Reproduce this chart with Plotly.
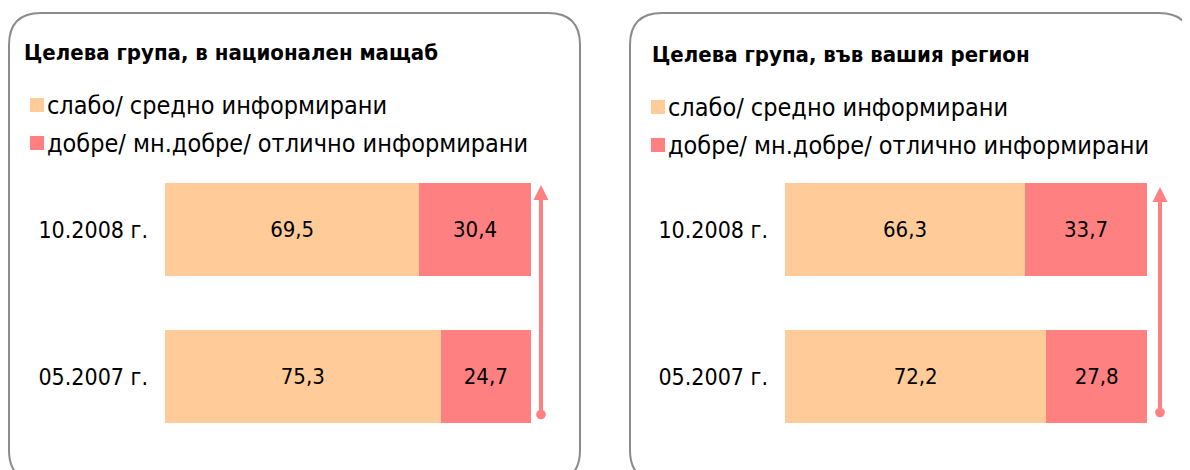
import plotly.graph_objects as go

W, H = 1190, 470
OFF = 8  # page body margin

periods = ["05.2007 г.", "10.2008 г."]
low_label = "слабо/ средно информирани"
high_label = "добре/ мн.добре/ отлично информирани"

national_low = [75.3, 69.5]
national_high = [24.7, 30.4]
regional_low = [72.2, 66.3]
regional_high = [27.8, 33.7]

titles = ["Целева група, в национален мащаб", "Целева група, във вашия регион"]

LOW_C = "#FFCC99"
HIGH_C = "#FF8080"
FONT = "DejaVu Sans Condensed, Roboto, sans-serif"


def px(x):
    return (x - OFF) / W


def py(y):
    return 1 - (y - OFF) / H


def fmt(vals):
    return [f"{v:.1f}".replace(".", ",") for v in vals]


def rounded_box(x0, y0, x1, y1, r):
    pts = [
        f"M{px(x0 + r)},{py(y0)}",
        f"L{px(x1 - r)},{py(y0)}",
        f"Q{px(x1)},{py(y0)} {px(x1)},{py(y0 + r)}",
        f"L{px(x1)},{py(y1 - r)}",
        f"Q{px(x1)},{py(y1)} {px(x1 - r)},{py(y1)}",
        f"L{px(x0 + r)},{py(y1)}",
        f"Q{px(x0)},{py(y1)} {px(x0)},{py(y1 - r)}",
        f"L{px(x0)},{py(y0 + r)}",
        f"Q{px(x0)},{py(y0)} {px(x0 + r)},{py(y0)}",
        "Z",
    ]
    return dict(type="path", xref="paper", yref="paper", path=" ".join(pts),
                line=dict(color="#8C8C8C", width=2), layer="below")


fig = go.Figure()

panels = [
    dict(low=national_low, high=national_high, xa="x", ya="y",
         dom=(165, 531), box=(9, 13, 580, 482), tx=22, ty=52, lx=30, ly=(105, 143),
         ax=541, ay=(185, 416)),
    dict(low=regional_low, high=regional_high, xa="x2", ya="y2",
         dom=(785, 1147), box=(630, 13, 1191, 482), tx=650, ty=55, lx=651, ly=(107, 145),
         ax=1160, ay=(187, 414)),
]

shapes = []
annotations = []
for i, p in enumerate(panels):
    for vals, name, col in [(p["low"], low_label, LOW_C), (p["high"], high_label, HIGH_C)]:
        fig.add_trace(go.Bar(
            y=periods, x=vals, orientation="h", name=name,
            marker=dict(color=col, line=dict(width=0)),
            text=fmt(vals), textposition="inside", insidetextanchor="middle",
            textfont=dict(family=FONT, size=22, color="black"),
            xaxis=p["xa"], yaxis=p["ya"], showlegend=False,
        ))

    shapes.append(rounded_box(*p["box"], 32))

    annotations.append(dict(
        text=f"<b>{titles[i]}</b>", x=px(p["tx"]), y=py(p["ty"]),
        xref="paper", yref="paper", xanchor="left", yanchor="middle",
        showarrow=False, font=dict(family=FONT, size=22, color="black"),
    ))
    for ly, name, col in [(p["ly"][0], low_label, LOW_C), (p["ly"][1], high_label, HIGH_C)]:
        shapes.append(dict(type="rect", xref="paper", yref="paper",
                           x0=px(p["lx"]), x1=px(p["lx"] + 14),
                           y0=py(ly + 7), y1=py(ly - 7),
                           fillcolor=col, line=dict(width=0)))
        annotations.append(dict(
            text=name, x=px(p["lx"] + 15), y=py(ly),
            xref="paper", yref="paper", xanchor="left", yanchor="middle",
            showarrow=False, font=dict(family=FONT, size=25, color="black"),
        ))

    annotations.append(dict(
        text="", x=px(p["ax"]), y=py(p["ay"][0]), xref="paper", yref="paper",
        ax=0, ay=p["ay"][1] - p["ay"][0], axref="pixel", ayref="pixel",
        showarrow=True, arrowside="end+start", arrowhead=2, arrowsize=0.75,
        startarrowhead=6, startarrowsize=0.6, arrowwidth=4, arrowcolor=HIGH_C,
    ))

bar_dom_y = [py(450), py(156)]
fig.update_layout(
    width=W, height=H,
    margin=dict(l=0, r=0, t=0, b=0),
    paper_bgcolor="white", plot_bgcolor="white",
    barmode="stack", bargap=0.37,
    xaxis=dict(domain=[px(165), px(531)], range=[0, 100], visible=False),
    xaxis2=dict(domain=[px(785), px(1147)], range=[0, 100], visible=False, anchor="y2"),
    yaxis=dict(domain=bar_dom_y, showgrid=False, showline=False, ticks="",
               ticklabelstandoff=16, tickfont=dict(family=FONT, size=23, color="black")),
    yaxis2=dict(domain=bar_dom_y, showgrid=False, showline=False, ticks="", anchor="x2",
                ticklabelstandoff=16, tickfont=dict(family=FONT, size=23, color="black")),
    shapes=shapes,
    annotations=annotations,
)

fig.write_html("out.html")
